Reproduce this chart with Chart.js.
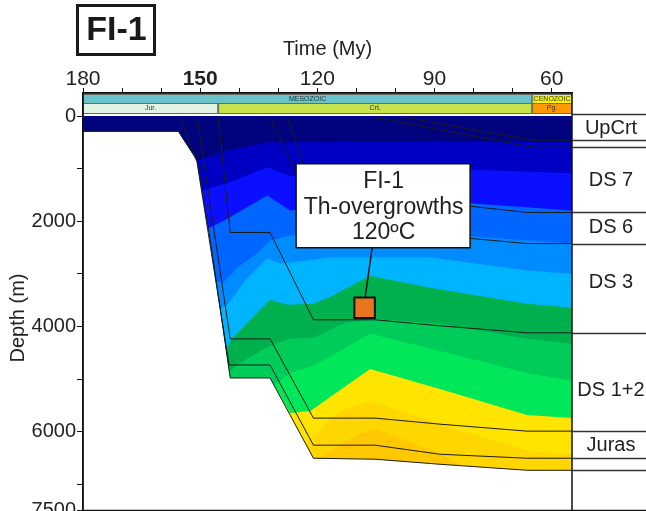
<!DOCTYPE html>
<html>
<head>
<meta charset="utf-8">
<script src="https://cdn.jsdelivr.net/npm/chart.js@4.4.1/dist/chart.umd.min.js"></script>
<style>
  html, body { margin: 0; padding: 0; background: #fff; overflow: hidden; }
  #wrap { width: 646px; height: 511px; overflow: hidden; }
</style>
</head>
<body>
<div id="wrap"><canvas id="burial" width="646" height="527"></canvas></div>
<script>
// axes (time in My before present, depth in m)
const timeMin = 54.8, timeMax = 180;
const depthMin = -440, depthMax = 7500;
const timeTicks = [60, 70, 80, 90, 100, 110, 120, 130, 140, 150, 160, 170, 180];
const timeLabels = [60, 90, 120, 150, 180];
const depthTicks = [0, 1000, 2000, 3000, 4000, 5000, 6000, 7000, 7500];
const depthLabels = [0, 2000, 4000, 6000, 7500];

// base of the section [time, depth]
const basement = [[180, 286], [155.6, 286], [150.8, 840], [147.4, 2366], [142.3, 4980], [132.1, 4980],
  [121.0, 6506], [105.2, 6525], [88.6, 6621], [66.3, 6735], [54.8, 6735]];

// burial paths of the horizons
const horizonJuras = [[155.1, 19], [150.8, 878], [142.6, 4732], [132.1, 4732], [121.0, 6258], [105.2, 6258], [88.6, 6430], [66.3, 6506], [54.8, 6506]];
const horizonDS12 = [[150.8, 19], [142.3, 4236], [132.1, 4236], [121.0, 5743], [105.2, 5743], [88.6, 5858], [66.3, 5991], [54.8, 5991]];
const horizonDS3 = [[145.4, 19], [142.3, 2213], [132.1, 2213], [121.0, 3873], [105.2, 3873], [88.6, 3988], [66.3, 4121], [54.8, 4121]];
const horizonDS6 = [[132.1, 19], [125.4, 1068], [121.0, 2137], [105.2, 2194], [80.4, 2328], [66.3, 2423], [54.8, 2423]];
const horizonDS7 = [[127.7, 19], [123.6, 897], [121.0, 1507], [105.2, 1603], [80.4, 1717], [66.3, 1832], [54.8, 1832]];
const horizonUp1 = [[105.7, 19], [65.0, 591], [54.8, 591]];
const horizonUp2 = [[98.0, 19], [65.0, 458], [54.8, 458]];

// temperature zone boundaries, shallow to deep
const iso1 = [[147.9, 782], [142.6, 649], [132.8, 496], [127.0, 496], [91.1, 487], [54.8, 487]];
const iso2 = [[149.5, 1412], [142.3, 1259], [132.8, 973], [127.0, 1145], [91.1, 992], [54.8, 1088]];
const iso3 = [[148.0, 2137], [144.1, 1996], [132.8, 1507], [127.0, 1794], [91.1, 1603], [54.8, 1794]];
const iso4 = [[145.9, 3148], [144.1, 3167], [140.5, 2881], [135.4, 2614], [132.1, 2366], [127.0, 2270], [91.1, 2232], [54.8, 2423]];
const iso5 = [[144.9, 3663], [142.8, 3568], [138.5, 3129], [132.8, 2709], [129.5, 2805], [116.7, 2690], [91.1, 2690], [66.3, 2938], [54.8, 2996]];
const iso6 = [[143.3, 4465], [142.3, 4273], [136.4, 3816], [132.1, 3492], [127.7, 3587], [121.0, 3568], [116.7, 3434], [106.5, 3034], [91.1, 3263], [66.3, 3568], [54.8, 3644]];
const iso7 = [[142.6, 4865], [139.8, 4694], [134.6, 4465], [132.1, 4369], [127.0, 4236], [121.0, 4217], [112.9, 3930], [105.2, 3854], [88.6, 3950], [66.3, 4236], [54.8, 4331]];
const iso8 = [[131.0, 5113], [127.0, 4884], [121.0, 4751], [106.5, 4140], [88.6, 4465], [66.3, 4884], [54.8, 5037]];
const iso9 = [[127.0, 5648], [121.8, 5610], [106.5, 4808], [88.6, 5190], [66.3, 5686], [54.8, 5743]];
const iso10 = [[123.1, 6220], [114.2, 5610], [106.5, 5419], [88.6, 5858], [65.5, 6373], [54.8, 6430]];
const iso11 = [[119.3, 6506], [112.9, 6182], [106.0, 5934], [91.1, 6335], [82.7, 6640]];
const bandColors = ['#00037d', '#0000c4', '#0a10ff', '#0066ff', '#008cff', '#00b4ff',
  '#00b04c', '#00cc5a', '#00e85a', '#ffe400', '#ffd600', '#ffc800'];

// fluid inclusion sample
const sample = [[107.9, 3644]];
const sampleText = ['FI-1', 'Th-overgrowths', '120ºC'];

// stratigraphic bars
const eras = [['MESOZOIC', 180, 65, '#68c4ca'], ['CENOZOIC', 65, 54.8, '#f6f600']];
const periods = [['Jur.', 180, 145.4, '#e3f3e1'], ['Crt.', 145.4, 65, '#c6e34c'], ['Pg.', 65, 54.8, '#ff9900']];

// present-day units (right column)
const unitBounds = [-40, 458, 591, 1832, 2423, 4121, 5991, 6506, 6735];
const unitNames = ['UpCrt', 'DS 7', 'DS 6', 'DS 3', 'DS 1+2', 'Juras'];
const unitLabelDepth = [229, 1221, 2118, 3167, 5209, 6258];

const FONT = "Arial, 'Liberation Sans', sans-serif";

const pts = arr => arr.map(([x, y]) => ({ x, y }));
const olderThan = t => basement.filter(p => p[0] > t);
const youngerThan = t => basement.filter(p => p[0] < t);

const isotherms = [iso1, iso2, iso3, iso4, iso5, iso6, iso7, iso8, iso9, iso10, iso11];
const fillSets = isotherms.map((iso, i) => {
    let path = olderThan(iso[0][0]).concat(iso);
    const lastT = iso[iso.length - 1][0];
    if (lastT > timeMin) path = path.concat(youngerThan(lastT));
    return {
        data: pts(path),
        backgroundColor: bandColors[i],
        borderColor: 'rgba(0,0,0,0)',
        borderWidth: 0,
        pointRadius: 0,
        fill: { value: 0 },
    };
});
fillSets.push({
    data: pts(basement),
    backgroundColor: bandColors[11],
    borderColor: 'rgba(0,0,0,0)',
    borderWidth: 0,
    pointRadius: 0,
    fill: { value: 0 },
});

const horizons = [basement, horizonJuras, horizonDS12, horizonDS3, horizonDS6, horizonDS7, horizonUp1, horizonUp2];
const lineSets = horizons.map(h => ({
    data: pts(h),
    borderColor: '#1c1c1c',
    borderWidth: 1,
    pointRadius: 0,
    fill: false,
}));

const sampleSet = {
    data: pts(sample),
    showLine: false,
    pointStyle: 'rect',
    pointRadius: 14.5,
    pointBackgroundColor: '#e8761f',
    pointBorderColor: '#111',
    pointBorderWidth: 2,
};

// extra drawing: strat bars, callout, frame, unit column, labels
const decor = {
    id: 'decor',
    afterDraw(chart) {
        const { ctx, chartArea: a, scales: { x, y } } = chart;
        ctx.save();

        // stratigraphic bars
        const rows = [[eras, a.top + 1, a.top + 10, 7], [periods, a.top + 10, a.top + 20, 7]];
        rows.forEach(([items, y0, y1, fs]) => {
            items.forEach(([name, from, to, color]) => {
                const x0 = x.getPixelForValue(from), x1 = x.getPixelForValue(to);
                ctx.fillStyle = color;
                ctx.fillRect(x0, y0, x1 - x0, y1 - y0);
                ctx.strokeStyle = '#6a6a6a';
                ctx.lineWidth = 1;
                ctx.strokeRect(x0 + 0.5, y0 + 0.5, x1 - x0 - 1, y1 - y0);
                ctx.fillStyle = '#333';
                ctx.font = fs + 'px ' + FONT;
                ctx.textAlign = 'center';
                ctx.textBaseline = 'middle';
                ctx.fillText(name, (x0 + x1) / 2, (y0 + y1) / 2 + 0.5);
            });
        });

        // callout box for the sample
        const sx = x.getPixelForValue(sample[0][0]);
        const sy = y.getPixelForValue(sample[0][1]);
        ctx.strokeStyle = '#111';
        ctx.lineWidth = 1.5;
        ctx.beginPath();
        ctx.moveTo(sx + 7.5, sy - 60);
        ctx.lineTo(sx + 0.5, sy - 10);
        ctx.stroke();
        const bx = sx - 68.5, by = sy - 144, bw = 174, bh = 84;
        ctx.fillStyle = '#fff';
        ctx.fillRect(bx, by, bw, bh);
        ctx.strokeRect(bx, by, bw, bh);
        ctx.fillStyle = '#222';
        ctx.font = '23px ' + FONT;
        ctx.textAlign = 'center';
        ctx.textBaseline = 'middle';
        sampleText.forEach((t, i) => ctx.fillText(t, bx + bw / 2 + 0.5, by + 18 + i * 25.5));

        // frame
        ctx.strokeStyle = '#111';
        ctx.lineWidth = 1.5;
        ctx.strokeRect(a.left, a.top, a.right - a.left, a.bottom - a.top);
        ctx.beginPath();
        ctx.moveTo(a.right, a.bottom);
        ctx.lineTo(chart.width, a.bottom);
        ctx.stroke();

        // present-day units
        ctx.strokeStyle = '#333';
        unitBounds.forEach(d => {
            const py = Math.round(y.getPixelForValue(d)) + 0.5;
            ctx.beginPath();
            ctx.moveTo(a.right, py);
            ctx.lineTo(chart.width, py);
            ctx.stroke();
        });
        ctx.fillStyle = '#222';
        ctx.font = '20px ' + FONT;
        unitNames.forEach((n, i) => {
            ctx.fillText(n, a.right + 39, y.getPixelForValue(unitLabelDepth[i]));
        });

        // depth axis title
        ctx.save();
        ctx.translate(18, 318);
        ctx.rotate(-Math.PI / 2);
        ctx.fillText('Depth (m)', 0, 0);
        ctx.restore();

        // well name
        ctx.strokeStyle = '#1a1a1a';
        ctx.lineWidth = 3;
        ctx.strokeRect(77.5, 5.5, 77, 49);
        ctx.fillStyle = '#1a1a1a';
        ctx.font = 'bold 34px ' + FONT;
        ctx.fillText('FI-1', 116.5, 31);

        ctx.restore();
    },
};

new Chart(document.getElementById('burial'), {
    type: 'line',
    data: { datasets: [sampleSet, ...lineSets, ...fillSets] },
    options: {
        animation: false,
        responsive: false,
        devicePixelRatio: 1,
        events: [],
        layout: { padding: { left: 0, right: 74, top: 0, bottom: 14 } },
        plugins: { legend: { display: false }, tooltip: { enabled: false } },
        scales: {
            x: {
                type: 'linear',
                position: 'top',
                reverse: true,
                min: timeMin,
                max: timeMax,
                afterBuildTicks: s => { s.ticks = timeTicks.map(v => ({ value: v })); },
                afterFit: s => { s.height = 93; },
                ticks: {
                    autoSkip: false,
                    maxRotation: 0,
                    padding: 0,
                    color: '#222',
                    font: c => ({ family: FONT, size: 21, lineHeight: 0.8,
                        weight: c.tick && c.tick.value === 150 ? 'bold' : 'normal' }),
                    callback: v => timeLabels.includes(v) ? String(v) : '',
                },
                grid: { drawOnChartArea: false, drawTicks: true, tickLength: 5, color: '#111', lineWidth: 1 },
                border: { display: true, color: '#111', width: 1.5 },
                title: { display: true, text: 'Time (My)', color: '#222', font: { family: FONT, size: 20 }, padding: { top: 37, bottom: 0 } },
            },
            y: {
                type: 'linear',
                reverse: true,
                min: depthMin,
                max: depthMax,
                afterBuildTicks: s => { s.ticks = depthTicks.map(v => ({ value: v })); },
                afterFit: s => { s.width = 83; },
                ticks: {
                    autoSkip: false,
                    padding: 1,
                    color: '#222',
                    font: { family: FONT, size: 20 },
                    callback: v => depthLabels.includes(v) ? String(v) : '',
                },
                grid: { drawOnChartArea: false, drawTicks: true, tickLength: 6, color: '#111', lineWidth: 1 },
                border: { display: true, color: '#111', width: 1.5 },
            },
        },
    },
    plugins: [decor],
});
</script>
</body>
</html>
